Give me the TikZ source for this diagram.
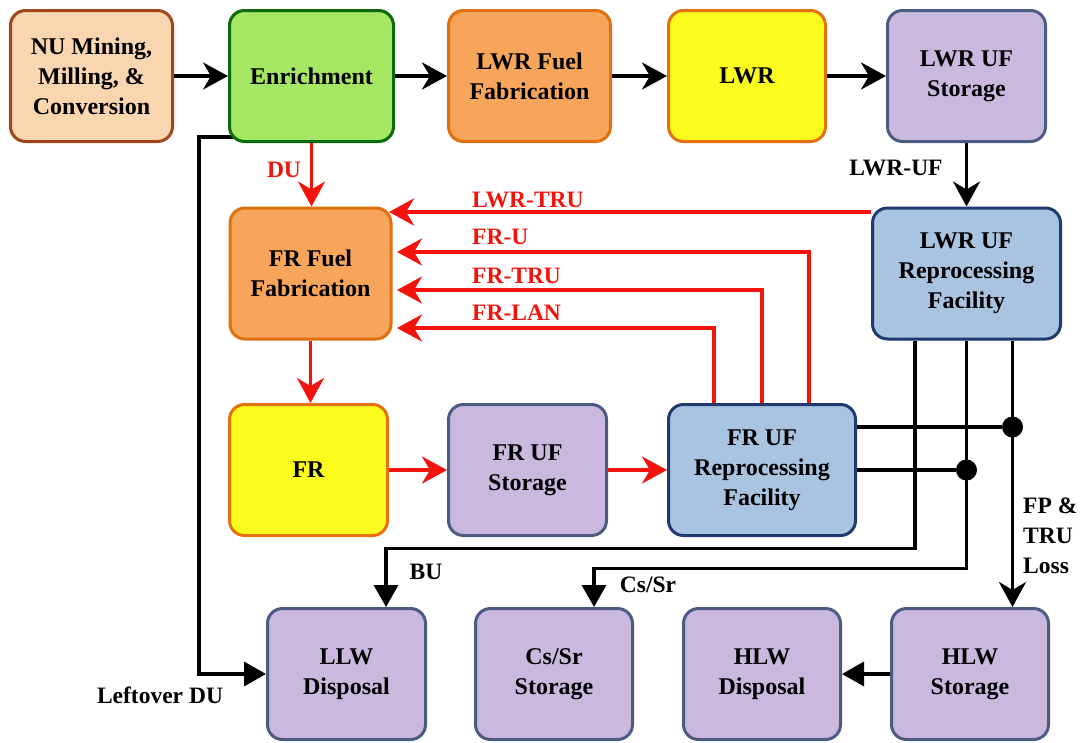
\documentclass[tikz,border=0pt]{standalone}
\usepackage{fontspec}
\setmainfont{Liberation Serif}
\usetikzlibrary{arrows.meta,backgrounds,calc}
\definecolor{nuFill}{HTML}{F9D5B0}
\definecolor{nuDraw}{HTML}{A1461B}
\definecolor{enFill}{HTML}{A5E663}
\definecolor{enDraw}{HTML}{0B6A0B}
\definecolor{orFill}{HTML}{F6A55A}
\definecolor{orDraw}{HTML}{E0700F}
\definecolor{yeFill}{HTML}{FCFC1E}
\definecolor{yeDraw}{HTML}{E8710F}
\definecolor{laFill}{HTML}{CBB8DF}
\definecolor{laDraw}{HTML}{4B5B82}
\definecolor{blFill}{HTML}{A9C4E0}
\definecolor{blDraw}{HTML}{1E3A6E}
\definecolor{redc}{HTML}{F2140C}
\tikzset{
  box/.style={draw, rounded corners=15pt, line width=3pt, minimum height=131pt,
    align=center, inner sep=0pt, font=\bfseries\fontsize{24}{30}\selectfont},
  nuS/.style={fill=nuFill, draw=nuDraw},
  enS/.style={fill=enFill, draw=enDraw},
  orS/.style={fill=orFill, draw=orDraw},
  yeS/.style={fill=yeFill, draw=yeDraw},
  laS/.style={fill=laFill, draw=laDraw},
  blS/.style={fill=blFill, draw=blDraw},
  bk/.style={draw=black, line width=3.5pt},
  rd/.style={draw=redc, line width=3.5pt},
  stl/.style={-{Stealth[length=25pt,width=27pt,inset=8pt]}},
  tri/.style={-{Triangle[length=22pt,width=24pt]}},
  lbl/.style={font=\bfseries\fontsize{23.5}{30}\selectfont, inner sep=0pt},
  dot/.style={circle, fill=black, inner sep=0pt, minimum size=21pt},
}
\begin{document}
\begin{tikzpicture}[x=1pt,y=-1pt]
\useasboundingbox (0,0) rectangle (1081,742);
% nodes
\node[box,nuS,minimum width=162pt] (nu)  at (91.5,76)    {NU Mining,\\Milling, \&\\Conversion};
\node[box,enS,minimum width=164pt] (enr) at (311.5,76)   {Enrichment};
\node[box,orS,minimum width=162pt] (lff) at (529.5,76)   {LWR Fuel\\Fabrication};
\node[box,yeS,minimum width=157pt] (lwr) at (747,76)     {LWR};
\node[box,laS,minimum width=158pt] (lus) at (966.5,76)   {LWR UF\\Storage};
\node[box,blS,minimum width=188pt] (lrp) at (966.5,273.5){LWR UF\\Reprocessing\\Facility};
\node[box,orS,minimum width=161pt] (fff) at (310.5,273.5){FR Fuel\\Fabrication};
\node[box,yeS,minimum width=158pt] (fr)  at (308.5,470)  {FR};
\node[box,laS,minimum width=158pt] (fus) at (527.5,470)  {FR UF\\Storage};
\node[box,blS,minimum width=187pt] (frp) at (762,470)    {FR UF\\Reprocessing\\Facility};
\node[box,laS,minimum width=158pt] (llw) at (346.5,674)  {LLW\\Disposal};
\node[box,laS,minimum width=157pt] (css) at (554,674)    {Cs/Sr\\Storage};
\node[box,laS,minimum width=157pt] (hd)  at (762,674)    {HLW\\Disposal};
\node[box,laS,minimum width=157pt] (hs)  at (970,674)    {HLW\\Storage};
% helper coordinates and junction dots
\coordinate (fx) at ([xshift=46pt]lrp.south);
\coordinate (fy) at ([yshift=43pt]frp.east);
\node[dot] (d1) at (fx |- fy) {};
\node[dot] (d2) at (lrp.south |- frp.east) {};
% connectors
\begin{scope}[on background layer]
\draw[bk,stl] (nu) -- (enr);
\draw[bk,stl] (enr) -- (lff);
\draw[bk,stl] (lff) -- (lwr);
\draw[bk,stl] (lwr) -- (lus);
\draw[bk,stl] (lus) -- (lrp);
\draw[rd,stl] (enr.south) -- (enr.south |- fff.north);
\draw[bk,tri] ([shift={(5,-6)}]enr.south west) -- ++(-34,0) |- (llw.west);
\draw[rd,stl] ([yshift=61.5pt]lrp.west) -- ([xshift=-3.5pt,yshift=61.5pt]fff.east);
\draw[rd,stl] ([xshift=47pt]frp.north) |- ([xshift=4.5pt,yshift=21.5pt]fff.east);
\draw[rd,stl] (frp.north) |- ([xshift=4.5pt,yshift=-16.5pt]fff.east);
\draw[rd,stl] ([xshift=-48pt]frp.north) |- ([xshift=4.5pt,yshift=-54.5pt]fff.east);
\draw[rd,stl] (fff.south) -- (fff.south |- fr.north);
\draw[rd,stl] (fr) -- (fus);
\draw[rd,stl] (fus) -- (frp);
\draw[bk,tri] ([xshift=-51.5pt]lrp.south) -- ++(0,208) -| ([xshift=39.5pt]llw.north);
\draw[bk,tri] (lrp.south) -- ++(0,228) -| ([xshift=40pt]css.north);
\draw[bk,stl] (fx) -- (fx |- hs.north);
\draw[bk] (fy) -- (d1);
\draw[bk] (frp.east) -- (d2);
\draw[bk,tri] (hs) -- (hd);
\end{scope}
% labels
\node[lbl] (tLwrUf) at (896,168) {LWR-UF};
\node[lbl,text=redc] (tDu) at (284,170) {DU};
\node[lbl,text=redc,anchor=west] (tLtru) at (472,200) {LWR-TRU};
\node[lbl,text=redc,anchor=west] (tFru) at (472,237) {FR-U};
\node[lbl,text=redc,anchor=west] (tFrtru) at (472,276) {FR-TRU};
\node[lbl,text=redc,anchor=west] (tFrlan) at (472,313) {FR-LAN};
\node[lbl] (tBu) at (426,572) {BU};
\node[lbl] (tCs) at (648,585) {Cs/Sr};
\node[lbl,align=left,anchor=west] (tFp) at (1023,536) {FP \&\\TRU\\Loss};
\node[lbl] (tLeft) at (160,695) {Leftover DU};
\end{tikzpicture}
\end{document}
